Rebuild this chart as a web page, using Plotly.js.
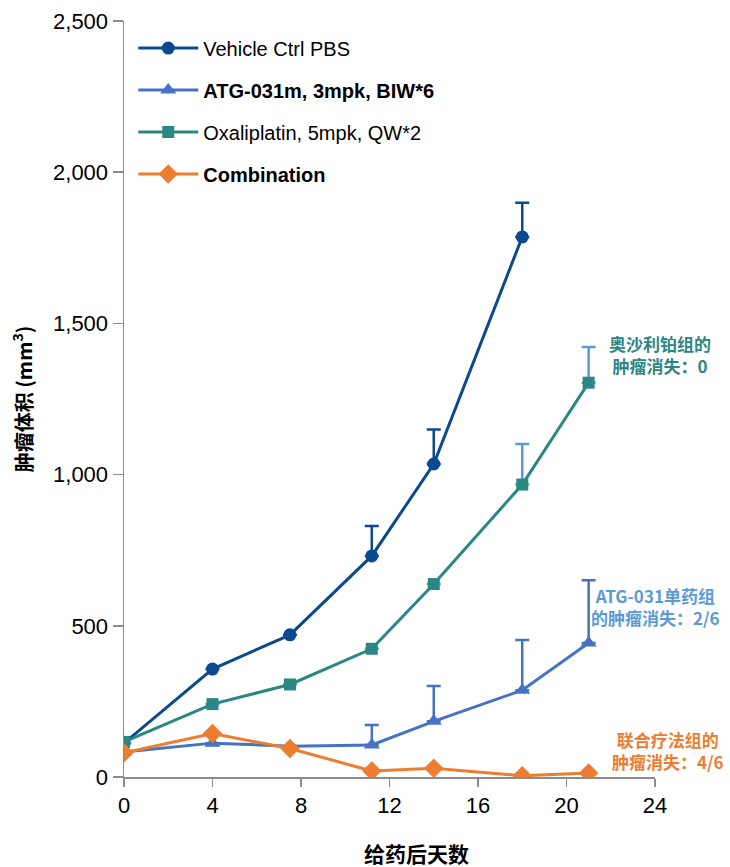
<!DOCTYPE html>
<html>
<head>
<meta charset="utf-8">
<script src="https://cdn.plot.ly/plotly-3.0.1.min.js"></script>
<style>
  html, body { margin: 0; padding: 0; background: #fff; }
  #chart { width: 730px; height: 867px; }
</style>
</head>
<body>
<div id="chart"></div>
<script>
// Days after dosing
const days = [0, 4, 7.5, 11.2, 14, 18, 21];
const vehicleDays = [0, 4, 7.5, 11.2, 14, 18];

// Mean tumour volume (mm3) per group
const vehicleMean = [112, 357, 470, 731, 1035, 1786];
const vehicleErr  = [0, 0, 0, 99, 114, 113];

const atgMean = [83, 112, 102, 106, 184, 287, 443];
const atgErr  = [0, 0, 0, 66, 117, 166, 208];

const oxaliMean = [116, 241, 306, 424, 638, 967, 1304];
const oxaliErr  = [0, 0, 0, 0, 0, 134, 118];

const comboMean = [80, 144, 94, 20, 29, 4, 13];

const seriesNames = [
  'Vehicle Ctrl PBS',
  '<b>ATG-031m, 3mpk, BIW*6</b>',
  'Oxaliplatin, 5mpk, QW*2',
  '<b>Combination</b>'
];

const xTicks = [0, 4, 8, 12, 16, 20, 24];
const yTicks = [0, 500, 1000, 1500, 2000, 2500];

const C_VEH = '#0b4a8f';
const C_ATG = '#4472c4';
const C_OXA = '#2b8783';
const C_OXA_ERR = '#5b9bd5';
const C_CMB = '#ed7d31';

function errBars(arr, color) {
  return {type: 'data', symmetric: false, array: arr,
          arrayminus: arr.map(() => 0), color: color, thickness: 2.5, width: 7};
}

const traces = [
  {x: vehicleDays, y: vehicleMean, name: seriesNames[0], legendgroup: 'a',
   mode: 'lines+markers', line: {color: C_VEH, width: 3},
   marker: {symbol: 'circle', size: 13, color: C_VEH},
   error_y: errBars(vehicleErr, C_VEH)},
  {x: days, y: atgMean, name: seriesNames[1], legendgroup: 'b',
   mode: 'lines+markers', line: {color: C_ATG, width: 3},
   marker: {symbol: 'triangle-up', size: 14, color: C_ATG},
   error_y: errBars(atgErr, C_ATG)},
  {x: days, y: oxaliMean, name: seriesNames[2], legendgroup: 'c',
   mode: 'lines+markers', line: {color: C_OXA, width: 3},
   marker: {symbol: 'square', size: 12, color: C_OXA},
   error_y: errBars(oxaliErr, C_OXA_ERR)},
  {x: days, y: comboMean, name: seriesNames[3], legendgroup: 'd',
   mode: 'lines+markers', line: {color: C_CMB, width: 3},
   marker: {symbol: 'diamond', size: 15, color: C_CMB}}
];

const cjk = '"Noto Sans CJK SC", "Noto Sans", sans-serif';
const latin = '"Liberation Sans", Arial, sans-serif';

function note(x, y, text, color) {
  return {xref: 'paper', yref: 'paper', x: x, y: y, xanchor: 'center', yanchor: 'middle',
          showarrow: false, align: 'center', text: '<b>' + text + '</b>',
          font: {family: cjk, size: 17, color: color}};
}

const layout = {
  width: 730, height: 867,
  margin: {l: 124, r: 75, t: 21, b: 90},
  paper_bgcolor: '#fff', plot_bgcolor: '#fff',
  font: {family: latin, size: 20, color: '#000'},
  showlegend: true,
  legend: {
    x: 0.0174, y: 0.99, xanchor: 'left', yanchor: 'top',
    bgcolor: 'rgba(0,0,0,0)', font: {family: latin, size: 20, color: '#000'},
    traceorder: 'grouped', tracegroupgap: 13, itemwidth: 60
  },
  xaxis: {
    range: [0, 24], tickvals: xTicks, ticktext: xTicks.map(String),
    showgrid: false, zeroline: false, showline: true,
    linecolor: '#8c8c8c', linewidth: 1.5,
    ticks: 'outside', ticklen: 8, tickwidth: 1.5, tickcolor: '#8c8c8c',
    tickfont: {family: latin, size: 22, color: '#000'}
  },
  yaxis: {
    range: [0, 2500], tickvals: yTicks, tickformat: ',',
    showgrid: false, zeroline: false, showline: true,
    linecolor: '#8c8c8c', linewidth: 1.5,
    ticks: 'outside', ticklen: 10, tickwidth: 1.5, tickcolor: '#8c8c8c',
    tickfont: {family: latin, size: 22, color: '#000'},
    title: {text: '<b>肿瘤体积 (mm<sup>3</sup>)</b>', standoff: 15,
            font: {family: cjk, size: 20, color: '#000'}}
  },
  annotations: [
    {xref: 'paper', yref: 'paper', x: 0.55, y: -0.1, xanchor: 'center', yanchor: 'middle',
     showarrow: false, text: '<b>给药后天数</b>', font: {family: cjk, size: 21, color: '#000'}},
    note(1.009, 0.5595, '奥沙利铂组的<br>肿瘤消失：0', C_OXA),
    note(1.0, 0.2249, 'ATG-031单药组<br>的肿瘤消失：2/6', C_OXA_ERR),
    note(1.024, 0.0357, '联合疗法组的<br>肿瘤消失：4/6', C_CMB)
  ]
};

Plotly.newPlot('chart', traces, layout, {displayModeBar: false, staticPlot: true});
</script>
</body>
</html>
